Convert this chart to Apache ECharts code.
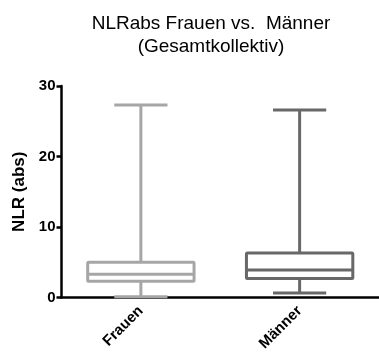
<!DOCTYPE html>
<html>
<head>
<meta charset="utf-8">
<script src="https://cdn.jsdelivr.net/npm/echarts@6/dist/echarts.min.js"></script>
<style>html,body{margin:0;padding:0;background:#fff}#c{width:379px;height:363px}</style>
</head>
<body>
<div id="c"></div>
<script>
var categories = ['Frauen', 'Männer'];
// [min, Q1, median, Q3, max]
var frauenValues = [0.1, 2.3, 3.3, 5.0, 27.3];
var maennerValues = [0.65, 2.7, 3.9, 6.3, 26.6];
var yTicks = [0, 10, 20, 30];
var boxColors = ['#a6a6a6', '#686868'];
var titleLines = ['NLRabs Frauen vs.  Männer', '(Gesamtkollektiv)'];

var chart = echarts.init(document.getElementById('c'));
var seriesData = [frauenValues, maennerValues].map(function (v, i) { return [i].concat(v); });

chart.setOption({
  animation: false,
  graphic: [{
    type: 'text', x: 211, y: 12,
    style: { text: titleLines.join('\n'), textAlign: 'center', font: '19px "Liberation Sans", Arial, sans-serif', lineHeight: 23, fill: '#000' }
  }],
  grid: { left: 61.5, right: -4.5, top: 86, bottom: 65.5 },
  xAxis: {
    type: 'category', data: categories,
    axisLine: { lineStyle: { color: '#000', width: 2.5 } },
    axisTick: { alignWithLabel: true, length: 5, lineStyle: { color: '#000', width: 2.5 } },
    axisLabel: { rotate: 45, margin: 11, color: '#000', fontWeight: 'bold', fontSize: 15, fontFamily: '"Liberation Sans", Arial, sans-serif' },
    splitLine: { show: false }
  },
  yAxis: {
    type: 'value', min: yTicks[0], max: yTicks[yTicks.length - 1], interval: 10,
    name: 'NLR (abs)', nameLocation: 'middle', nameGap: 27,
    nameTextStyle: { color: '#000', fontWeight: 'bold', fontSize: 17, fontFamily: '"Liberation Sans", Arial, sans-serif' },
    axisLine: { show: true, lineStyle: { color: '#000', width: 2.5 } },
    axisTick: { show: true, length: 5, lineStyle: { color: '#000', width: 2.5 } },
    axisLabel: { margin: 6, color: '#000', fontWeight: 'bold', fontSize: 15, fontFamily: '"Liberation Sans", Arial, sans-serif' },
    splitLine: { show: false }
  },
  series: [{
    type: 'custom',
    encode: { x: 0, y: [1, 2, 3, 4, 5] },
    data: seriesData,
    z: 1,
    renderItem: function (params, api) {
      var x = api.value(0);
      var pMin = api.coord([x, api.value(1)]);
      var pQ1 = api.coord([x, api.value(2)]);
      var pMed = api.coord([x, api.value(3)]);
      var pQ3 = api.coord([x, api.value(4)]);
      var pMax = api.coord([x, api.value(5)]);
      var band = api.size([1, 0])[0];
      var hw = band * 0.335;
      var cw = hw / 2;
      var cx = pMed[0];
      var style = { stroke: boxColors[params.dataIndex], fill: null, lineWidth: 3 };
      function ln(x1, y1, x2, y2) { return { type: 'line', shape: { x1: x1, y1: y1, x2: x2, y2: y2 }, style: style }; }
      return {
        type: 'group',
        children: [
          { type: 'rect', shape: { x: cx - hw, y: pQ3[1], width: 2 * hw, height: pQ1[1] - pQ3[1], r: 1 }, style: style },
          ln(cx - hw, pMed[1], cx + hw, pMed[1]),
          ln(cx, pQ3[1], cx, pMax[1]),
          ln(cx, pQ1[1], cx, pMin[1]),
          ln(cx - cw, pMax[1], cx + cw, pMax[1]),
          ln(cx - cw, pMin[1], cx + cw, pMin[1])
        ]
      };
    }
  }]
});
</script>
</body>
</html>
